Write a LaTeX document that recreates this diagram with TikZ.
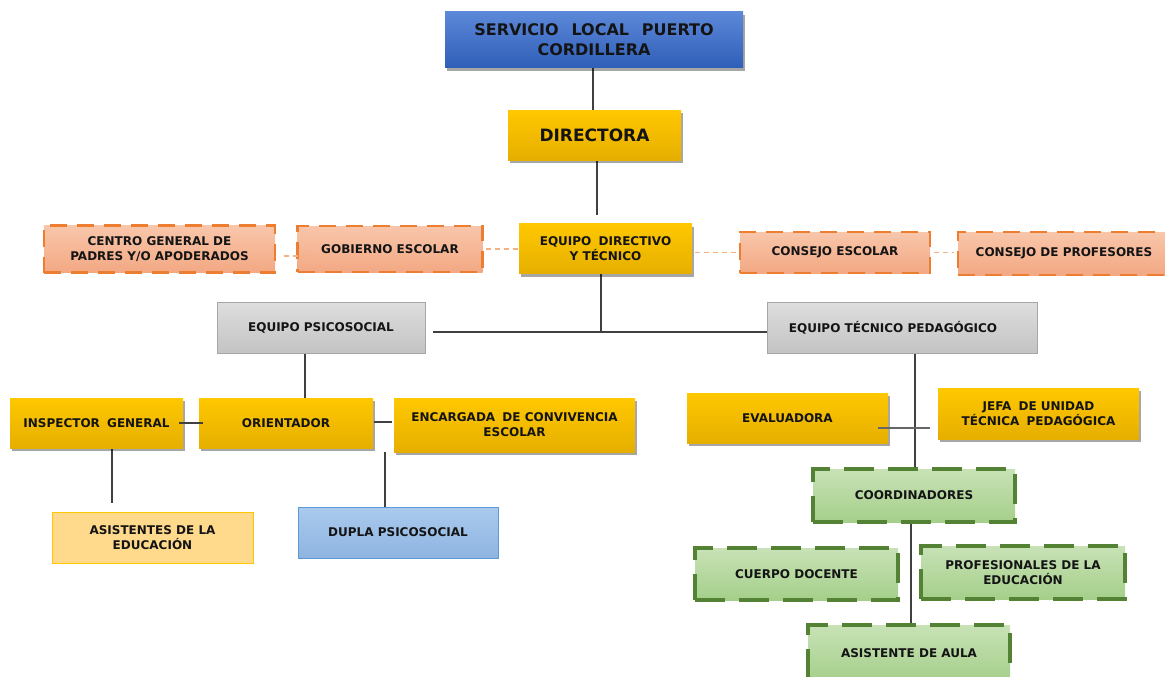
\documentclass[tikz,border=0pt]{standalone}
\usepackage{fontspec}
\setmainfont{DejaVu Sans}
\usetikzlibrary{shadows,backgrounds}
\definecolor{ytop}{HTML}{FFC800}
\definecolor{ybot}{HTML}{E6AF00}
\definecolor{stop}{HTML}{F8C6AA}
\definecolor{sbot}{HTML}{F3A883}
\definecolor{sline}{HTML}{ED7D31}
\definecolor{gtop}{HTML}{C8E2B6}
\definecolor{gbot}{HTML}{A5CF8A}
\definecolor{gline}{HTML}{548235}
\definecolor{grtop}{HTML}{DEDEDE}
\definecolor{grbot}{HTML}{C3C3C3}
\definecolor{grline}{HTML}{A6A6A6}
\definecolor{btop}{HTML}{5C88D8}
\definecolor{bbot}{HTML}{2F5EB8}
\definecolor{txt}{HTML}{141414}
\definecolor{conn}{HTML}{404040}
\definecolor{dconn}{HTML}{F4B183}
\definecolor{lyel}{HTML}{FFD98C}
\definecolor{dtop}{HTML}{AACAEE}
\definecolor{dbot}{HTML}{8EB4E0}
\definecolor{dline}{HTML}{5B9BD5}
\newcommand{\dsp}{\hspace{0.6em}}
\tikzset{
  base/.style={rectangle, inner sep=0pt, align=center, text=txt,
    font=\fontsize{12}{15}\selectfont\bfseries},
  shad/.style={drop shadow={shadow xshift=2pt, shadow yshift=-3pt, opacity=0.35, fill=black}},
  ybox/.style={base, shad, top color=ytop, bottom color=ybot, draw=none},
  sbox/.style={base, top color=stop, bottom color=sbot, draw=sline, line width=2.5pt, dash pattern=on 17pt off 10pt},
  gbox/.style={base, top color=gtop, bottom color=gbot, draw=gline, line width=3.5pt, dash pattern=on 30pt off 14pt},
  grbox/.style={base, top color=grtop, bottom color=grbot, draw=grline, line width=0.8pt},
  bbox/.style={base, shad, top color=btop, bottom color=bbot, draw=none},
  lbox/.style={base, fill=lyel, draw=ytop, line width=1pt},
  dbox/.style={base, top color=dtop, bottom color=dbot, draw=dline, line width=1pt},
  ln/.style={draw=conn, line width=1.5pt},
  dln/.style={draw=dconn, line width=1.5pt, dash pattern=on 5pt off 4pt},
}
\begin{document}
\begin{tikzpicture}[x=1pt,y=-1pt]
\useasboundingbox (0,0) rectangle (1165,677);
% nodes
\node[bbox, minimum width=298, minimum height=56, font=\fontsize{16}{20}\selectfont\bfseries] (serv) at (594,40) {SERVICIO\hspace{0.8em}LOCAL\hspace{0.8em}PUERTO\\CORDILLERA};
\node[ybox, minimum width=173, minimum height=50, font=\fontsize{17}{20}\selectfont\bfseries] (dir) at (594.5,135) {DIRECTORA};
\node[ybox, minimum width=173, minimum height=50] (eq) at (605.5,248.5) {EQUIPO\dsp DIRECTIVO\\Y TÉCNICO};
\node[sbox, minimum width=231, minimum height=47] (centro) at (159.5,249) {CENTRO GENERAL DE\\PADRES Y/O APODERADOS};
\node[sbox, minimum width=185, minimum height=46] (gob) at (390,249) {GOBIERNO ESCOLAR};
\node[sbox, minimum width=190, minimum height=41] (cesc) at (835,252.5) {CONSEJO ESCOLAR};
\node[sbox, minimum width=212, minimum height=43] (cprof) at (1064,253.5) {CONSEJO DE PROFESORES};
\node[grbox, minimum width=208, minimum height=51] (psi) at (321,327.5) {EQUIPO PSICOSOCIAL};
\node[grbox, minimum width=270, minimum height=51] (tp) at (902,327.5) {EQUIPO TÉCNICO PEDAGÓGICO\hspace{18pt}};
\node[ybox, minimum width=173, minimum height=50] (insp) at (96.5,423) {INSPECTOR\dsp GENERAL};
\node[ybox, minimum width=174, minimum height=50] (ori) at (286,423) {ORIENTADOR};
\node[ybox, minimum width=241, minimum height=54] (enc) at (514.5,425) {ENCARGADA\dsp DE CONVIVENCIA\\ESCOLAR};
\node[ybox, minimum width=201, minimum height=50] (eva) at (787.5,418) {EVALUADORA};
\node[ybox, minimum width=201, minimum height=51] (jefa) at (1038.5,413.5) {JEFA\dsp DE UNIDAD\\TÉCNICA\dsp PEDAGÓGICA};
\node[lbox, minimum width=201, minimum height=51] (asis) at (152.5,537.5) {ASISTENTES DE LA\\EDUCACIÓN};
\node[dbox, minimum width=200, minimum height=51] (dupla) at (398,532.5) {DUPLA PSICOSOCIAL};
\node[gbox, minimum width=202, minimum height=53] (coord) at (914,495.5) {COORDINADORES};
\node[gbox, minimum width=203, minimum height=52] (cuerpo) at (796.5,574) {CUERPO DOCENTE};
\node[gbox, minimum width=204, minimum height=53] (prof) at (1023,572.5) {PROFESIONALES DE LA\\EDUCACIÓN};
\node[gbox, minimum width=202, minimum height=56] (aula) at (909,653) {ASISTENTE DE AULA};
\coordinate (j) at (601,332);
% connectors
\begin{pgfonlayer}{background}
\draw[ln] ([xshift=-1pt]serv.south) -- ([xshift=-1pt]serv.south |- dir.north);
\draw[ln, shorten >=8pt] ([xshift=2.5pt]dir.south) -- ([xshift=2.5pt]dir.south |- eq.north);
\draw[ln] ([xshift=-4.5pt]eq.south) -- (j);
\draw[ln, shorten <=8pt, shorten >=-3pt] (psi.east |- j) -- (tp.west |- j);
\draw[ln] ([xshift=-16pt]psi.south) -- ([xshift=-16pt]psi.south |- ori.north);
\draw[ln, shorten >=9pt] ([xshift=15.5pt]insp.south) -- ([xshift=15.5pt]insp.south |- asis.north);
\draw[ln] ([xshift=-13pt]dupla.north) -- ([xshift=-13pt]dupla.north |- enc.south);
\draw[ln] ([xshift=13pt]tp.south) -- ([xshift=13pt]tp.south |- coord.north);
\draw[ln] ([xshift=-3pt]coord.south) -- ([xshift=-3pt]coord.south |- aula.north);
\end{pgfonlayer}
\draw[ln] ([xshift=-4pt]insp.east) -- ([xshift=4pt]ori.west);
\draw[ln, shorten <=1pt, shorten >=2pt] ([yshift=1pt]ori.east) -- ([yshift=1pt]ori.east -| enc.west);
\draw[ln, draw=conn!80, shorten <=-10pt, shorten >=8pt] ([yshift=-10pt]eva.east) -- ([yshift=-10pt]eva.east -| jefa.west);
\draw[dln, shorten <=8pt, shorten >=-14pt] ([yshift=-7pt]centro.east) -- ([yshift=-7pt]centro.east -| gob.west);
\draw[dln, shorten <=2pt] (gob.east) -- (gob.east -| eq.west);
\draw[dln, shorten <=3pt] ([yshift=-4pt]eq.east) -- ([yshift=-4pt]eq.east -| cesc.west);
\draw[dln, shorten <=3pt, shorten >=3pt] (cesc.east) -- (cesc.east -| cprof.west);
\end{tikzpicture}
\end{document}
